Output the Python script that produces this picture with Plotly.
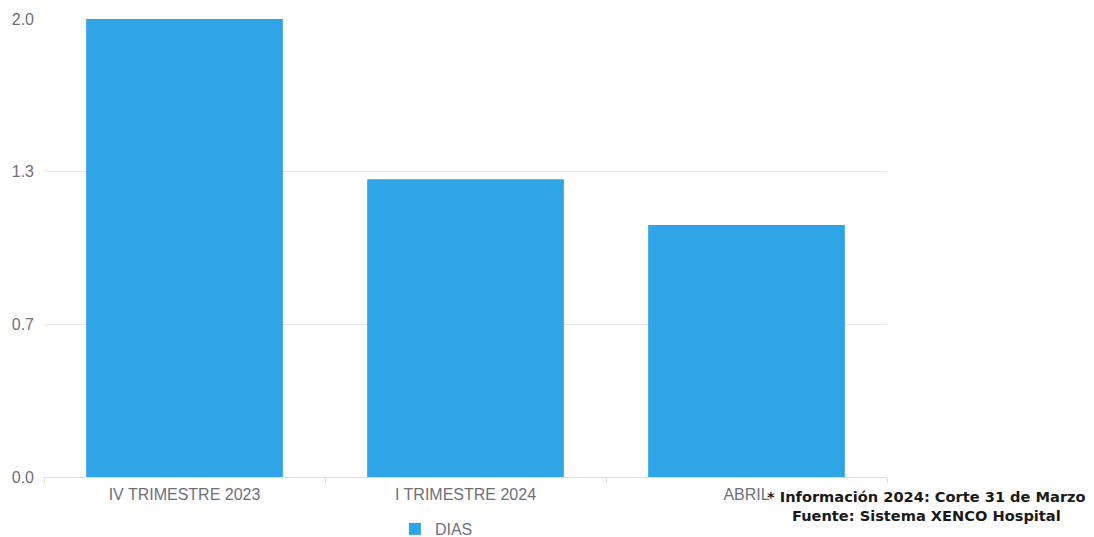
import plotly.graph_objects as go

categories = ["IV TRIMESTRE 2023", "I TRIMESTRE 2024", "ABRIL"]
dias = [2.0, 1.3, 1.1]
tick_vals = [0, 2/3, 4/3, 2.0]
tick_text = ["0.0", "0.7", "1.3", "2.0"]
note_text = "* Información 2024: Corte 31 de Marzo<br>Fuente: Sistema XENCO Hospital"

fig = go.Figure()
fig.add_trace(go.Bar(x=categories, y=dias, name="DIAS", marker_color="#2fa5e7",
                     marker_line_width=0, showlegend=True))

fig.update_layout(
    width=1086, height=529,
    margin=dict(l=36, r=207, t=11, b=60, autoexpand=False),
    paper_bgcolor="white", plot_bgcolor="white",
    bargap=0.3,
    font=dict(family="Liberation Sans, Arial", size=16, color="#6e7079"),
    showlegend=True,
    legend=dict(orientation="h", x=0.4655, xanchor="center", y=-0.1135, yanchor="middle",
                font=dict(size=16, color="#6e7079"), itemwidth=30),
    xaxis=dict(showline=True, linecolor="#dcdcdc", ticks="outside", tickson="boundaries",
               ticklen=5, tickcolor="#dcdcdc", showgrid=False, fixedrange=True,
               automargin=False, ticklabelstandoff=3),
    yaxis=dict(range=[0, 2.0], tickvals=tick_vals, ticktext=tick_text, showgrid=True,
               gridcolor="#e6e6e6", zeroline=False, ticks="", showline=False,
               automargin=False, ticklabelstandoff=9),
)
fig.add_annotation(text=note_text, xref="paper", yref="paper", x=1.0463, y=-0.063,
                   xanchor="center", yanchor="middle", showarrow=False, align="center",
                   font=dict(family="DejaVu Sans", size=14.6, color="#1a1a1a", weight="bold"))
fig.write_html("out.html")
